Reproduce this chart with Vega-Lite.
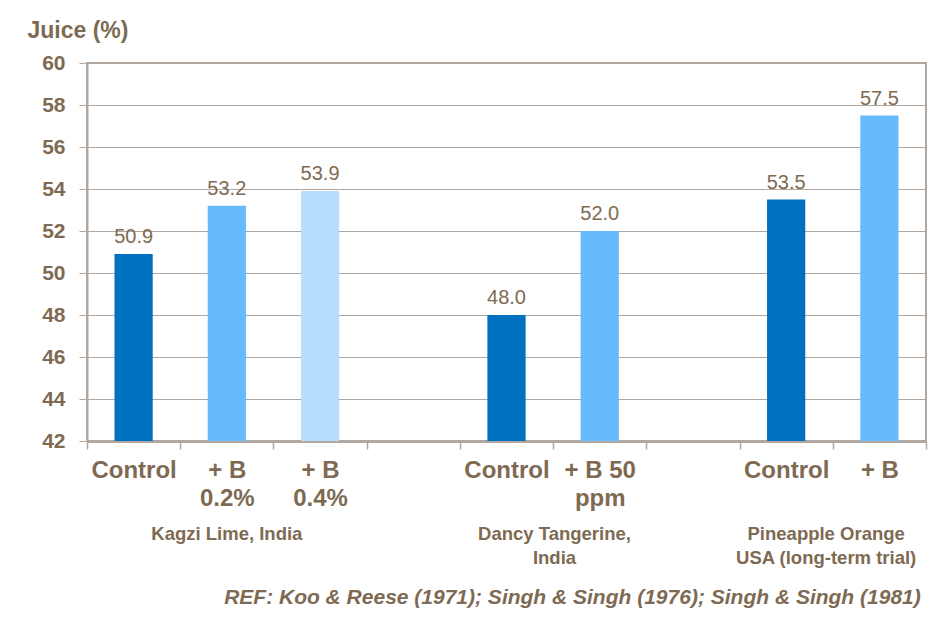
{
  "$schema": "https://vega.github.io/schema/vega-lite/v6.json",
  "width": 839,
  "height": 378,
  "autosize": {"type": "none"},
  "padding": {"left": 87, "top": 63, "right": 17, "bottom": 186},
  "background": "white",
  "config": {
    "view": {"stroke": "#B0A8A0", "strokeWidth": 2},
    "font": "Liberation Sans",
    "axis": {"labelColor": "#7E6A52", "titleColor": "#7E6A52", "labelFont": "Liberation Sans", "titleFont": "Liberation Sans"}
  },
  "title": {
    "text": "REF: Koo & Reese (1971); Singh & Singh (1976); Singh & Singh (1981)",
    "orient": "bottom",
    "anchor": "end",
    "fontSize": 21,
    "fontStyle": "italic",
    "fontWeight": "bold",
    "color": "#7E6A52",
    "font": "Liberation Sans",
    "offset": 20,
    "dx": -6
  },
  "data": {
    "values": [
      {"key": "01|Control", "site": "Kagzi Lime, India", "treatment": "Control", "juice": 50.9},
      {"key": "02|+ B|0.2%", "site": "Kagzi Lime, India", "treatment": "+ B", "juice": 53.2},
      {"key": "03|+ B|0.4%", "site": "Kagzi Lime, India", "treatment": "+ B 0.4%", "juice": 53.9},
      {"key": "04|", "site": "", "treatment": "", "juice": null},
      {"key": "05|Control", "site": "Dancy Tangerine, India", "treatment": "Control", "juice": 48.0},
      {"key": "06|+ B 50|ppm", "site": "Dancy Tangerine, India", "treatment": "+ B", "juice": 52.0},
      {"key": "07|", "site": "", "treatment": "", "juice": null},
      {"key": "08|Control", "site": "Pineapple Orange USA (long-term trial)", "treatment": "Control", "juice": 53.5},
      {"key": "09|+ B", "site": "Pineapple Orange USA (long-term trial)", "treatment": "+ B", "juice": 57.5}
    ]
  },
  "layer": [
    {
      "mark": {"type": "bar", "width": {"band": 0.41}},
      "encoding": {
        "x": {
          "field": "key",
          "type": "ordinal",
          "title": null,
          "scale": {"paddingInner": 0, "paddingOuter": 0, "domain": ["01|Control", "02|+ B|0.2%", "03|+ B|0.4%", "04|", "05|Control", "06|+ B 50|ppm", "07|", "08|Control", "09|+ B"]},
          "axis": {
            "orient": "bottom",
            "labelExpr": "slice(split(datum.value, '|'), 1)",
            "labelAngle": 0,
            "labelFontSize": 24,
            "labelFontWeight": "bold",
            "labelLineHeight": 28,
            "labelPadding": 9,
            "tickBand": "extent",
            "tickSize": 8,
            "tickColor": "#B0A8A0",
            "tickWidth": 1.5,
            "domainColor": "#B0A8A0",
            "domainWidth": 3,
            "grid": false
          }
        },
        "y": {
          "field": "juice",
          "type": "quantitative",
          "scale": {"domain": [42, 60], "zero": false, "nice": false},
          "axis": {
            "values": [42, 44, 46, 48, 50, 52, 54, 56, 58, 60],
            "title": "Juice (%)",
            "titleAngle": 0,
            "titleAlign": "left",
            "titleBaseline": "middle",
            "titleX": -60,
            "titleY": -33,
            "titleFontSize": 23,
            "titleFontWeight": "bold",
            "labelFontSize": 21,
            "labelFontWeight": "bold",
            "labelPadding": 14,
            "tickSize": 8,
            "tickColor": "#B0A8A0",
            "domainColor": "#B0A8A0",
            "domainWidth": 2,
            "gridColor": "#B0A8A0",
            "gridWidth": 1
          }
        },
        "y2": {"datum": 42},
        "color": {
          "field": "treatment",
          "type": "nominal",
          "scale": {"domain": ["Control", "+ B", "+ B 0.4%"], "range": ["#0070C0", "#66BBFF", "#B7DEFF"]},
          "legend": null
        }
      }
    },
    {
      "mark": {"type": "text", "baseline": "bottom", "dy": -7, "fontSize": 20, "color": "#7E6A52"},
      "encoding": {
        "x": {"field": "key", "type": "ordinal", "axis": null},
        "y": {"field": "juice", "type": "quantitative"},
        "text": {"field": "juice", "type": "quantitative", "format": ".1f"}
      }
    },
    {
      "mark": {"type": "text", "opacity": 0},
      "encoding": {
        "x": {
          "field": "key",
          "type": "ordinal",
          "title": null,
          "axis": {
            "orient": "bottom",
            "labelExpr": "substring(datum.value, 0, 2) == '02' ? ['Kagzi Lime, India'] : substring(datum.value, 0, 2) == '05' ? ['Dancy Tangerine,', 'India'] : substring(datum.value, 0, 2) == '08' ? ['Pineapple Orange', 'USA  (long-term trial)'] : ''",
            "labelAngle": 0,
            "labelFontSize": 18.5,
            "labelFontWeight": "bold",
            "labelLineHeight": 24,
            "labelPadding": 83,
            "labelLimit": 400,
            "labelOverlap": false,
            "labelOffset": {"condition": [{"test": "substring(datum.value, 0, 2) == '05'", "value": 48}, {"test": "substring(datum.value, 0, 2) == '08'", "value": 40}], "value": 0},
            "ticks": false,
            "domain": false,
            "grid": false
          }
        },
        "text": {"value": ""}
      }
    }
  ],
  "resolve": {"axis": {"x": "independent"}}
}
